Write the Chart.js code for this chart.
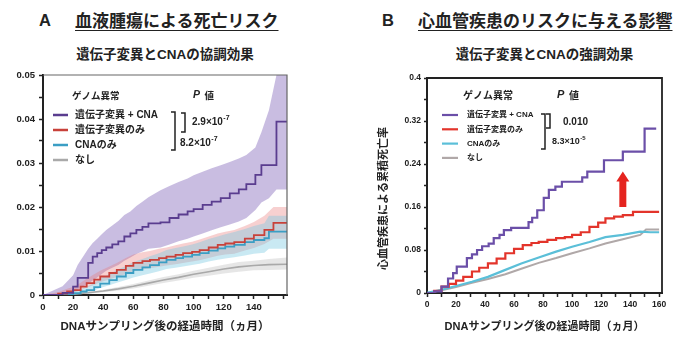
<!DOCTYPE html>
<html>
<head>
<meta charset="utf-8">
<script src="https://cdn.jsdelivr.net/npm/chart.js@4.4.1/dist/chart.umd.min.js"></script>
<style>
body { margin: 0; background: #fff; }
#wrap { position: relative; width: 683px; height: 338px; overflow: hidden; color: #222;
  font-family: 'Liberation Sans', 'Noto Sans CJK JP', sans-serif; }
.t { position: absolute; font-weight: bold; white-space: nowrap; }
.letter { font-size: 16.5px; line-height: 20px; top: 10px; }
.title { font-family: 'Noto Sans CJK JP', sans-serif; font-size: 17px; line-height: 24px; top: 8px;
  text-decoration: underline; text-decoration-thickness: 1.2px; text-underline-offset: 3px; }
.sub { font-size: 13.5px; line-height: 18px; top: 46px; text-align: center; }
canvas { position: absolute; }
</style>
</head>
<body>
<div id="wrap">
  <div class="t letter" style="left:39px">A</div>
  <div class="t title" style="left:75px">血液腫瘍による死亡リスク</div>
  <div class="t sub" style="left:43px;width:244px">遺伝子変異とCNAの協調効果</div>
  <div class="t letter" style="left:382px">B</div>
  <div class="t title" style="left:418px">心血管疾患のリスクに与える影響</div>
  <div class="t sub" style="left:427px;width:235px">遺伝子変異とCNAの強調効果</div>
  <canvas id="chartA" width="300" height="278" style="left:0;top:60px;width:300px;height:278px"></canvas>
  <canvas id="chartB" width="343" height="278" style="left:340px;top:60px;width:343px;height:278px"></canvas>
</div>
<script>
Chart.defaults.font.family = "'Liberation Sans', 'Noto Sans CJK JP', sans-serif";
Chart.defaults.color = '#222';

const seriesNames = ['遺伝子変異 + CNA', '遺伝子変異のみ', 'CNAのみ', 'なし'];
const keyHeader = 'ゲノム異常';
const xTitle = 'DNAサンプリング後の経過時間（ヵ月）';
const yTitleB = '心血管疾患による累積死亡率';

// A: 血液腫瘍による死亡 (months, cumulative incidence, 95% band)
const aPurpleX  = [0, 13, 20, 23, 30, 33, 36, 39, 42, 46, 50, 54, 58, 62, 66, 70, 78, 84, 90, 96, 100, 106, 112, 118, 124, 130, 135, 141, 145, 150, 155, 162];
const aPurpleY  = [0, 0.0005, 0.0019, 0.0039, 0.0073, 0.0087, 0.0095, 0.0102, 0.0108, 0.0115, 0.0122, 0.0133, 0.014, 0.0148, 0.0155, 0.0163, 0.0165, 0.0175, 0.0183, 0.019, 0.0195, 0.0205, 0.0212, 0.022, 0.0231, 0.024, 0.0252, 0.0273, 0.0295, 0.0295, 0.0394, 0.0394];
const aPurpleLo = [0, 0, 0.0006, 0.0012, 0.0026, 0.0033, 0.004, 0.0048, 0.0055, 0.0062, 0.0068, 0.0078, 0.0085, 0.0093, 0.0099, 0.0105, 0.0108, 0.0115, 0.0122, 0.0128, 0.0133, 0.014, 0.0147, 0.0154, 0.016, 0.0167, 0.0175, 0.0193, 0.021, 0.022, 0.024, 0.024];
const aPurpleHi = [0, 0.002, 0.0045, 0.0068, 0.0105, 0.0118, 0.0128, 0.0138, 0.0148, 0.0158, 0.0168, 0.0182, 0.019, 0.0202, 0.0212, 0.0222, 0.0238, 0.0248, 0.0257, 0.0265, 0.0272, 0.028, 0.0288, 0.0295, 0.0302, 0.031, 0.0318, 0.0335, 0.037, 0.042, 0.05, 0.05];

const aRedX  = [0, 10, 16, 20, 25, 29, 34, 38, 44, 49, 55, 60, 66, 71, 77, 82, 88, 93, 99, 104, 110, 116, 121, 127, 134, 140, 147, 153, 162];
const aRedY  = [0, 0.0003, 0.0008, 0.0011, 0.0019, 0.0027, 0.0035, 0.0042, 0.005, 0.0057, 0.0066, 0.0073, 0.0077, 0.008, 0.0084, 0.0087, 0.0091, 0.0095, 0.0098, 0.0102, 0.0108, 0.0114, 0.0117, 0.012, 0.0128, 0.0136, 0.0148, 0.0164, 0.0164];
const aRedLo = [0, 0, 0.0003, 0.0005, 0.0011, 0.0017, 0.0023, 0.0029, 0.0035, 0.0041, 0.0048, 0.0054, 0.0058, 0.0061, 0.0064, 0.0067, 0.007, 0.0073, 0.0076, 0.0079, 0.0084, 0.0089, 0.0092, 0.0094, 0.0101, 0.0107, 0.0116, 0.0128, 0.0128];
const aRedHi = [0, 0.0006, 0.0014, 0.0018, 0.0028, 0.0037, 0.0047, 0.0055, 0.0065, 0.0073, 0.0084, 0.0092, 0.0097, 0.01, 0.0105, 0.0108, 0.0113, 0.0117, 0.0121, 0.0126, 0.0133, 0.014, 0.0144, 0.0148, 0.0157, 0.0166, 0.018, 0.02, 0.02];

const aCyanX  = [0, 15, 20, 25, 29, 34, 38, 44, 49, 55, 60, 66, 71, 77, 82, 88, 93, 99, 104, 110, 116, 121, 127, 134, 140, 147, 150, 162];
const aCyanY  = [0, 0.0001, 0.0004, 0.0008, 0.0011, 0.0018, 0.0026, 0.0034, 0.0042, 0.005, 0.0057, 0.0063, 0.0068, 0.0074, 0.008, 0.0084, 0.0087, 0.0091, 0.0095, 0.0101, 0.0106, 0.011, 0.0114, 0.012, 0.0125, 0.0129, 0.0144, 0.0144];
const aCyanLo = [0, 0, 0.0001, 0.0003, 0.0005, 0.001, 0.0016, 0.0022, 0.0028, 0.0034, 0.004, 0.0045, 0.0049, 0.0054, 0.0059, 0.0062, 0.0065, 0.0068, 0.0071, 0.0076, 0.008, 0.0083, 0.0086, 0.009, 0.0094, 0.0096, 0.0105, 0.0105];
const aCyanHi = [0, 0.0003, 0.0008, 0.0013, 0.0018, 0.0027, 0.0037, 0.0047, 0.0057, 0.0066, 0.0075, 0.0082, 0.0088, 0.0095, 0.0102, 0.0107, 0.011, 0.0115, 0.012, 0.0127, 0.0133, 0.0138, 0.0143, 0.015, 0.0157, 0.0163, 0.018, 0.018];

const aGrayX  = [0, 10, 20, 30, 40, 50, 60, 70, 80, 90, 100, 110, 120, 130, 140, 150, 162];
const aGrayY  = [0, 0, 0.0002, 0.0005, 0.0009, 0.0014, 0.002, 0.0027, 0.0034, 0.004, 0.0047, 0.0053, 0.0059, 0.0064, 0.0067, 0.0069, 0.007];
const aGrayLo = [0, 0, 0.0001, 0.0003, 0.0006, 0.001, 0.0015, 0.0021, 0.0027, 0.0033, 0.0039, 0.0044, 0.0049, 0.0053, 0.0056, 0.0057, 0.0058];
const aGrayHi = [0, 0, 0.0003, 0.0007, 0.0012, 0.0018, 0.0025, 0.0033, 0.0041, 0.0047, 0.0055, 0.0062, 0.0069, 0.0075, 0.0078, 0.0082, 0.0085];

const aPBase = ['2.9×10', '8.2×10'];
const aPExp  = ['-7', '-7'];

// B: 心血管疾患による累積死亡率
const bPurpleX = [0, 5, 10, 14.5, 18, 20.5, 27.5, 31, 34.5, 38, 42.5, 46, 50, 53, 58, 70, 72.5, 76, 80.5, 84, 88.5, 93, 107, 110.5, 122, 135, 150, 158];
const bPurpleY = [0, 0.003, 0.012, 0.027, 0.037, 0.049, 0.065, 0.072, 0.08, 0.087, 0.092, 0.102, 0.108, 0.117, 0.121, 0.132, 0.14, 0.154, 0.177, 0.192, 0.198, 0.207, 0.215, 0.226, 0.247, 0.263, 0.306, 0.306];
const bRedX = [0, 5, 10, 15, 20, 25, 31, 36, 42, 48, 54, 60, 66, 72, 77, 83, 89, 95, 100, 106, 112, 118, 123, 129, 135, 142, 160];
const bRedY = [0, 0.004, 0.012, 0.017, 0.023, 0.03, 0.04, 0.047, 0.055, 0.064, 0.074, 0.082, 0.089, 0.093, 0.095, 0.099, 0.102, 0.104, 0.108, 0.113, 0.123, 0.131, 0.139, 0.142, 0.145, 0.151, 0.151];
const bCyanX = [0, 10, 20, 31, 42, 54, 65, 77, 89, 100, 112, 123, 135, 147, 154, 160];
const bCyanY = [0, 0.006, 0.013, 0.021, 0.03, 0.043, 0.055, 0.066, 0.077, 0.086, 0.095, 0.104, 0.108, 0.114, 0.113, 0.113];
const bGrayX = [0, 10, 20, 31, 42, 54, 65, 77, 89, 100, 112, 123, 135, 147, 151, 160];
const bGrayY = [0, 0.005, 0.011, 0.019, 0.026, 0.035, 0.045, 0.056, 0.065, 0.074, 0.083, 0.092, 0.1, 0.108, 0.118, 0.118];

const bPBase = ['0.010', '8.3×10'];
const bPExp  = ['', '-5'];

const colorsA = ['#5a3d8f', '#c8413a', '#3b9ec4', '#a9a9a9'];
const bandsA = ['rgba(148,124,196,0.5)', 'rgba(232,120,120,0.35)', 'rgba(120,200,225,0.4)', 'rgba(200,200,200,0.45)'];
const colorsB = ['#6b4fa8', '#e3342b', '#5bbfd8', '#b0a8a8'];

function pts(xs, ys) {
  return xs.map((x, i) => ({ x: x, y: ys[i] }));
}
function lineDs(xs, ys, color, width, stepped) {
  return { data: pts(xs, ys), borderColor: color, borderWidth: width, pointRadius: 0, fill: false, stepped: stepped, tension: 0 };
}
function bandDs(xs, lo, hi, color) {
  return [
    { data: pts(xs, hi), borderWidth: 0, borderColor: 'transparent', pointRadius: 0, backgroundColor: color, fill: '+1' },
    { data: pts(xs, lo), borderWidth: 0, borderColor: 'transparent', pointRadius: 0, fill: false }
  ];
}
function fixedTicks(from, to, step) {
  const out = [];
  for (let i = 0; from + i * step <= to + step / 1000; i++) out.push({ value: +(from + i * step).toFixed(4) });
  return out;
}

// box, key, arrow, rotated y title
const framePlugin = {
  id: 'frame',
  afterDraw(chart, args, o) {
    const a = chart.chartArea, ctx = chart.ctx;
    ctx.save();
    ctx.strokeStyle = o.color;
    ctx.lineWidth = o.width;
    ctx.beginPath();
    ctx.moveTo(a.left, a.top);
    ctx.lineTo(a.right, a.top);
    ctx.lineTo(a.right, a.bottom);
    ctx.stroke();
    ctx.restore();
  }
};

function bracket(ctx, x, y0, y1, w) {
  ctx.beginPath();
  ctx.moveTo(x - w, y0);
  ctx.lineTo(x, y0);
  ctx.lineTo(x, y1);
  ctx.lineTo(x - w, y1);
  ctx.stroke();
}

const keyPlugin = {
  id: 'key',
  afterDraw(chart, args, o) {
    const ctx = chart.ctx, X = chart.chartArea.left, Y = chart.chartArea.top;
    ctx.save();
    ctx.fillStyle = '#222';
    ctx.textBaseline = 'middle';
    ctx.textAlign = 'left';
    ctx.font = 'bold ' + o.headSize + "px 'Noto Sans CJK JP'";
    ctx.fillText(keyHeader, X + o.headX, Y + o.headY);
    ctx.font = 'italic bold ' + (o.headSize + 1) + "px 'Liberation Sans'";
    ctx.fillText('P', X + o.pX, Y + o.headY);
    ctx.font = 'bold ' + o.headSize + "px 'Noto Sans CJK JP'";
    ctx.fillText('値', X + o.pX + o.headSize * 1.2, Y + o.headY);
    seriesNames.forEach((name, i) => {
      const y = Y + o.rowY + i * o.rowGap;
      ctx.strokeStyle = o.colors[i];
      ctx.lineWidth = o.lineW;
      ctx.beginPath();
      ctx.moveTo(X + o.lineX0, y);
      ctx.lineTo(X + o.lineX1, y);
      ctx.stroke();
      ctx.font = 'bold ' + o.textSize + "px 'Liberation Sans', 'Noto Sans CJK JP'";
      ctx.fillText(name, X + o.textX, y);
    });
    ctx.strokeStyle = '#222';
    ctx.lineWidth = 1.5;
    bracket(ctx, X + o.outerX, Y + o.outerY0, Y + o.outerY1, o.brW);
    bracket(ctx, X + o.innerX, Y + o.innerY0, Y + o.innerY1, o.brW);
    o.pBase.forEach((b, i) => {
      const px = X + o.pPos[i][0], py = Y + o.pPos[i][1];
      ctx.font = 'bold ' + o.pSize[i] + "px 'Liberation Sans'";
      ctx.fillText(b, px, py);
      if (o.pExp[i]) {
        const w = ctx.measureText(b).width;
        ctx.font = 'bold ' + Math.round(o.pSize[i] * 0.7) + "px 'Liberation Sans'";
        ctx.fillText(o.pExp[i], px + w + 0.5, py - o.pSize[i] * 0.38);
      }
    });
    ctx.restore();
  }
};

const arrowPlugin = {
  id: 'arrow',
  afterDatasetsDraw(chart, args, o) {
    if (!o.show) return;
    const ctx = chart.ctx, xs = chart.scales.x, ys = chart.scales.y;
    const cx = xs.getPixelForValue(o.at), yb = ys.getPixelForValue(o.from), yt = ys.getPixelForValue(o.to);
    ctx.save();
    ctx.fillStyle = o.color;
    ctx.beginPath();
    ctx.moveTo(cx - o.shaft / 2, yb);
    ctx.lineTo(cx - o.shaft / 2, yt + o.head);
    ctx.lineTo(cx - o.headW / 2, yt + o.head);
    ctx.lineTo(cx, yt);
    ctx.lineTo(cx + o.headW / 2, yt + o.head);
    ctx.lineTo(cx + o.shaft / 2, yt + o.head);
    ctx.lineTo(cx + o.shaft / 2, yb);
    ctx.closePath();
    ctx.fill();
    ctx.restore();
  }
};

const yTitlePlugin = {
  id: 'ytitle',
  afterDraw(chart, args, o) {
    if (!o.text) return;
    const ctx = chart.ctx, a = chart.chartArea;
    ctx.save();
    ctx.translate(a.left + o.dx, (a.top + a.bottom) / 2 + o.dy);
    ctx.rotate(-Math.PI / 2);
    ctx.fillStyle = '#222';
    ctx.font = 'bold ' + o.size + "px 'Noto Sans CJK JP'";
    ctx.textAlign = 'center';
    ctx.textBaseline = 'middle';
    ctx.fillText(o.text, 0, 0);
    ctx.restore();
  }
};

function axisX(max, tickSize, titleSize, lastLabel, h) {
  return {
    type: 'linear', min: 0, max: max,
    border: { color: '#222', width: 2 },
    grid: { drawOnChartArea: false, tickLength: 4, tickColor: '#222', tickWidth: 1.5 },
    afterBuildTicks: s => { s.ticks = fixedTicks(0, 160, 10); },
    ticks: { autoSkip: false, maxRotation: 0, padding: 3,
      font: { size: tickSize, weight: 'bold' },
      callback: v => (v % 20 === 0 && v <= lastLabel) ? String(v) : '' },
    title: { display: true, text: xTitle, font: { size: titleSize, weight: 'bold' }, padding: { top: 0, bottom: 4 } },
    afterFit: s => { s.height = h; }
  };
}

new Chart(document.getElementById('chartA'), {
  type: 'line',
  data: {
    datasets: [
      lineDs(aPurpleX, aPurpleY, colorsA[0], 1.8, true),
      lineDs(aRedX, aRedY, colorsA[1], 1.8, true),
      lineDs(aCyanX, aCyanY, colorsA[2], 1.8, true),
      lineDs(aGrayX, aGrayY, colorsA[3], 1.6, false),
      ...bandDs(aGrayX, aGrayLo, aGrayHi, bandsA[3]),
      ...bandDs(aCyanX, aCyanLo, aCyanHi, bandsA[2]),
      ...bandDs(aRedX, aRedLo, aRedHi, bandsA[1]),
      ...bandDs(aPurpleX, aPurpleLo, aPurpleHi, bandsA[0])
    ]
  },
  options: {
    responsive: false, animation: false, devicePixelRatio: 1,
    layout: { padding: { left: 0, top: 15, right: 13, bottom: 0 } },
    plugins: {
      legend: { display: false }, tooltip: { enabled: false },
      filler: { drawTime: 'beforeDatasetsDraw' },
      frame: { color: '#666', width: 1.2 },
      key: { headSize: 9.5, headX: 29, headY: 20, pX: 150, lineX0: 10, lineX1: 25, textX: 32,
        rowY: 40, rowGap: 15, textSize: 10, lineW: 2.5, colors: colorsA,
        outerX: 132, outerY0: 37, outerY1: 75, innerX: 142, innerY0: 38, innerY1: 57, brW: 4,
        pBase: aPBase, pExp: aPExp, pPos: [[149, 47], [137, 68]], pSize: [10, 10] },
      arrow: { show: false },
      ytitle: {}
    },
    scales: {
      x: axisX(162, 9.5, 11.5, 140, 43),
      y: {
        min: 0, max: 0.05,
        border: { color: '#222', width: 2 },
        grid: { drawOnChartArea: false, tickLength: 4, tickColor: '#222', tickWidth: 1.5 },
        afterBuildTicks: s => { s.ticks = fixedTicks(0, 0.05, 0.005); },
        ticks: { autoSkip: false, padding: 4, font: { size: 9.5, weight: 'bold' },
          callback: v => { const k = Math.round(v * 1000); if (k % 10 !== 0) return ''; return k === 0 ? '0' : (k / 1000).toFixed(2); } },
        afterFit: s => { s.width = 43; }
      }
    }
  },
  plugins: [framePlugin, keyPlugin, arrowPlugin, yTitlePlugin]
});

new Chart(document.getElementById('chartB'), {
  type: 'line',
  data: {
    datasets: [
      lineDs(bPurpleX, bPurpleY, colorsB[0], 2.2, true),
      lineDs(bRedX, bRedY, colorsB[1], 2.2, true),
      lineDs(bCyanX, bCyanY, colorsB[2], 2.2, false),
      lineDs(bGrayX, bGrayY, colorsB[3], 2, false)
    ]
  },
  options: {
    responsive: false, animation: false, devicePixelRatio: 1,
    layout: { padding: { left: 30, top: 18, right: 21, bottom: 0 } },
    plugins: {
      legend: { display: false }, tooltip: { enabled: false },
      frame: { color: '#222', width: 1.8 },
      key: { headSize: 10, headX: 36, headY: 17, pX: 130, lineX0: 15, lineX1: 31, textX: 40,
        rowY: 37, rowGap: 14.3, textSize: 8, lineW: 2.2, colors: colorsB,
        outerX: 118, outerY0: 36, outerY1: 71, innerX: 123, innerY0: 36, innerY1: 50, brW: 4,
        pBase: bPBase, pExp: bPExp, pPos: [[136, 44], [125, 64]], pSize: [10, 9] },
      arrow: { show: true, at: 135, from: 0.16, to: 0.226, color: '#e5241f', shaft: 7, headW: 13, head: 10 },
      ytitle: { text: yTitleB, size: 11, dx: -44, dy: 13 }
    },
    scales: {
      x: axisX(162, 8.5, 11, 160, 45),
      y: {
        min: 0, max: 0.4,
        border: { color: '#222', width: 2 },
        grid: { drawOnChartArea: false, tickLength: 3, tickColor: '#222', tickWidth: 1.5 },
        afterBuildTicks: s => { s.ticks = fixedTicks(0, 0.4, 0.04); },
        ticks: { autoSkip: false, padding: 3, font: { size: 8.5, weight: 'bold' },
          callback: v => { const k = Math.round(v * 100); if (k % 8 !== 0) return ''; return k === 0 ? '0' : String(k / 100); } },
        afterFit: s => { s.width = 57; }
      }
    }
  },
  plugins: [framePlugin, keyPlugin, arrowPlugin, yTitlePlugin]
});
</script>
</body>
</html>
